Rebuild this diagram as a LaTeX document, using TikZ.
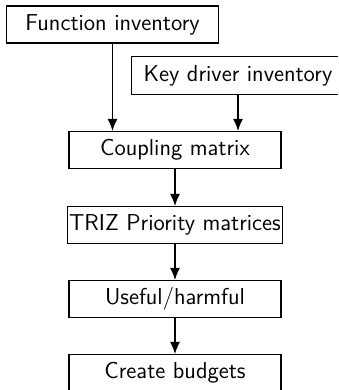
\documentclass[tikz,border=0pt]{standalone}
\usetikzlibrary{arrows.meta}
\begin{document}
\begin{tikzpicture}[x=0.5pt,y=-0.5pt,
  stepbox/.style={draw, line width=0.6pt, minimum width=106pt, minimum height=18.5pt,
    inner sep=1pt, font=\sffamily\fontsize{11.5}{14}\selectfont},
  flow/.style={line width=0.6pt, -{Latex[length=6pt,width=5pt]}}]
  \useasboundingbox (0,0) rectangle (338,390);
  \node[stepbox] (fi) at (112.5,24.5) {Function inventory};
  % this box runs past the right edge of the page, so only three sides are drawn
  \node[stepbox, draw=none] (kd) at (238,75.5) {Key driver inventory};
  \draw[line width=0.6pt] (kd.north -| 338,0) -- (kd.north west) -- (kd.south west) -- (kd.south -| 338,0);
  \node[stepbox] (cm) at (175,150) {Coupling matrix};
  \node[stepbox] (tr) at (175,225) {TRIZ Priority matrices};
  \node[stepbox] (uh) at (175,299) {Useful/harmful};
  \node[stepbox] (cb) at (175,373) {Create budgets};
  \draw[flow] (fi.south) -- (fi.south |- cm.north);
  \draw[flow] (kd.south) -- (kd.south |- cm.north);
  \draw[flow] (cm) -- (tr);
  \draw[flow] (tr) -- (uh);
  \draw[flow] (uh) -- (cb);
\end{tikzpicture}
\end{document}
